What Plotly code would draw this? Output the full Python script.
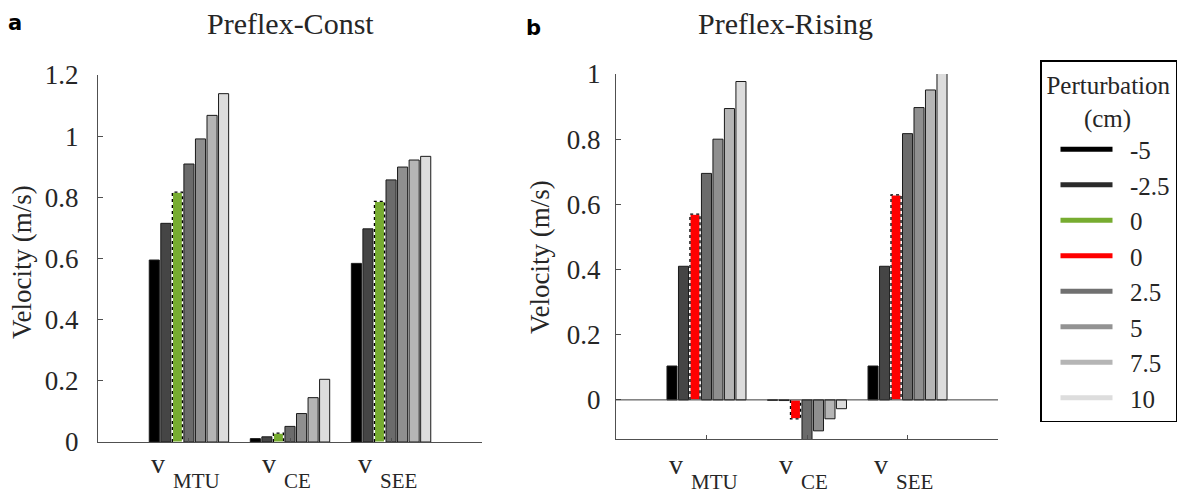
import plotly.graph_objects as go

W, H = 1186, 493

# ---------------- data ----------------
cat_base = "v"
categories = ["MTU", "CE", "SEE"]
perturbations = ["-5", "-2.5", "0", "0", "2.5", "5", "7.5", "10"]
colors = ["#000000", "#454545", "#77ac30", "#ff0000", "#6b6b6b", "#8f8f8f", "#b5b5b5", "#dcdcdc"]
legend_colors = ["#000000", "#2b2b2b", "#77ac30", "#ff0000", "#707070", "#939393", "#b5b5b5", "#dddddd"]

# Preflex-Const (panel a)
const_m5 = [0.595, 0.011, 0.584]
const_m2_5 = [0.715, 0.017, 0.697]
const_0 = [0.817, 0.029, 0.787]
const_2_5 = [0.909, 0.051, 0.857]
const_5 = [0.991, 0.093, 0.899]
const_7_5 = [1.068, 0.145, 0.922]
const_10 = [1.139, 0.205, 0.934]

# Preflex-Rising (panel b)
rising_m5 = [0.104, -0.001, 0.104]
rising_m2_5 = [0.410, -0.002, 0.410]
rising_0 = [0.570, -0.058, 0.629]
rising_2_5 = [0.695, -0.125, 0.817]
rising_5 = [0.800, -0.095, 0.897]
rising_7_5 = [0.894, -0.058, 0.951]
rising_10 = [0.977, -0.027, 1.004]

yticks_a = [0, 0.2, 0.4, 0.6, 0.8, 1.0, 1.2]
yticks_b = [0, 0.2, 0.4, 0.6, 0.8, 1.0]

panel_a = [(0, const_m5), (1, const_m2_5), (2, const_0), (4, const_2_5),
           (5, const_5), (6, const_7_5), (7, const_10)]
panel_b = [(0, rising_m5), (1, rising_m2_5), (3, rising_0), (4, rising_2_5),
           (5, rising_5), (6, rising_7_5), (7, rising_10)]

SERIF = "Liberation Serif, Times New Roman, serif"
AXC = "#505050"
TXT = "#262626"
FS = 27

slot = 0.8 / 7
bw = 0.1
xpos = [1, 2, 3]

fig = go.Figure()


def add_panel(series, xa, ya):
    for k, (si, vals) in enumerate(series):
        off = (k - 3) * slot
        xs = [x + off for x in xpos]
        dotted = si in (2, 3)
        fig.add_trace(go.Bar(
            x=xs, y=vals, width=bw, xaxis=xa, yaxis=ya, cliponaxis=False,
            marker=dict(color=colors[si],
                        line=dict(color="#ffffff" if dotted else "#1a1a1a",
                                  width=1.2 if dotted else 1)),
            showlegend=False, hoverinfo="y"))
        if dotted:
            px, py = [], []
            for x, v in zip(xs, vals):
                px += [x - bw / 2, x - bw / 2, x + bw / 2, x + bw / 2, None]
                py += [0, v, v, 0, None]
            fig.add_trace(go.Scatter(
                x=px, y=py, xaxis=xa, yaxis=ya, mode="lines",
                line=dict(color="#000000", width=1.3, dash="dot"),
                showlegend=False, hoverinfo="skip"))


add_panel(panel_a, "x", "y")
add_panel(panel_b, "x2", "y2")

NB = "\u00a0"
for i, lab in enumerate(perturbations):
    fig.add_trace(go.Scatter(
        x=[None], y=[None], mode="lines", name=NB * 2 + lab,
        line=dict(color=legend_colors[i], width=5),
        legendgroup="g%d" % i, xaxis="x", yaxis="y"))

ax_common = dict(showgrid=False, zeroline=False, showline=True, linecolor=AXC,
                 linewidth=1, ticks="inside", tickcolor=AXC, automargin=False,
                 fixedrange=True)

fig.update_layout(
    width=W, height=H,
    margin=dict(l=0, r=0, t=0, b=0),
    paper_bgcolor="white", plot_bgcolor="white",
    barmode="overlay",
    font=dict(family=SERIF, size=FS, color=TXT),
    xaxis=dict(domain=[98 / W, 482 / W], range=[0.1, 3.9], tickvals=xpos,
               showticklabels=False, ticklen=4, anchor="y", **ax_common),
    yaxis=dict(domain=[1 - 442 / H, 1 - 75 / H], range=[0, 1.2], tickvals=yticks_a,
               ticklen=5, ticklabelstandoff=13, anchor="x",
               tickfont=dict(family=SERIF, size=FS, color=TXT), **ax_common),
    xaxis2=dict(domain=[616 / W, 998 / W], range=[0.1, 3.9], tickvals=xpos,
                showticklabels=False, ticklen=4, anchor="y2", **ax_common),
    yaxis2=dict(domain=[1 - 439 / H, 1 - 74 / H], range=[-0.12, 1.0], tickvals=yticks_b,
                ticklen=5, ticklabelstandoff=9, anchor="x2",
                tickfont=dict(family=SERIF, size=FS, color=TXT), **ax_common),
    legend=dict(x=1040 / W, y=1 - 60 / H, xanchor="left", yanchor="top",
                bordercolor="#000000", borderwidth=1.5, bgcolor="white",
                font=dict(family=SERIF, size=25, color=TXT),
                title=dict(text="Perturbation<br>" + NB * 6 + "(cm)", side="top center",
                           font=dict(family=SERIF, size=25, color=TXT)),
                tracegroupgap=0, itemwidth=52, indentation=14),
    showlegend=True,
)

# zero baseline for panel b
fig.add_shape(type="line", xref="x2 domain", yref="y2", x0=0, x1=1, y0=0, y1=0,
              line=dict(color="#3a3a3a", width=1))

# category labels: "v" with a lowered subscript
SUB_FS = 21
V_FS = 28
cw = {"M": .889, "T": .611, "U": .722, "C": .667, "E": .611, "S": .556}
v_w = 0.5 * V_FS
for xa, yv, ys in (("x", 463, 481), ("x2", 464, 482)):
    for i, c in enumerate(categories):
        sw = sum(cw.get(ch, 0.7) for ch in c) * SUB_FS
        sub_left = -(v_w + 5 + sw) / 2 + v_w + 1
        fig.add_annotation(x=xpos[i], y=1 - yv / H, xref=xa, yref="paper",
                           text=cat_base, showarrow=False, xanchor="left", yanchor="middle",
                           xshift=sub_left - v_w - 8, font=dict(family=SERIF, size=V_FS, color=TXT))
        fig.add_annotation(x=xpos[i], y=1 - ys / H, xref=xa, yref="paper",
                           text=c, showarrow=False, xanchor="left", yanchor="middle",
                           xshift=sub_left,
                           font=dict(family=SERIF, size=SUB_FS, color=TXT))

# y titles
for xp, yp in ((22 / W, 1 - 262 / H), (540 / W, 1 - 257 / H)):
    fig.add_annotation(x=xp, y=yp, xref="paper", yref="paper", text="Velocity (m/s)",
                       textangle=-90, showarrow=False, xanchor="center", yanchor="middle",
                       font=dict(family=SERIF, size=FS, color=TXT))

# panel titles
fig.add_annotation(x=290 / W, y=1 - 23 / H, xref="paper", yref="paper", text="Preflex-Const",
                   showarrow=False, xanchor="center", yanchor="middle",
                   font=dict(family=SERIF, size=30, color=TXT))
fig.add_annotation(x=785 / W, y=1 - 23 / H, xref="paper", yref="paper", text="Preflex-Rising",
                   showarrow=False, xanchor="center", yanchor="middle",
                   font=dict(family=SERIF, size=30, color=TXT))

# panel letters
fig.add_annotation(x=15 / W, y=1 - 23 / H, xref="paper", yref="paper", text="<b>a</b>",
                   showarrow=False, xanchor="center", yanchor="middle",
                   font=dict(family="DejaVu Sans", size=21, color="#000000"))
fig.add_annotation(x=533 / W, y=1 - 28 / H, xref="paper", yref="paper", text="<b>b</b>",
                   showarrow=False, xanchor="center", yanchor="middle",
                   font=dict(family="DejaVu Sans", size=21, color="#000000"))

fig.write_html("out.html", config={"displayModeBar": False},
               post_script="document.body.style.margin='0';document.body.style.overflow='hidden';")
